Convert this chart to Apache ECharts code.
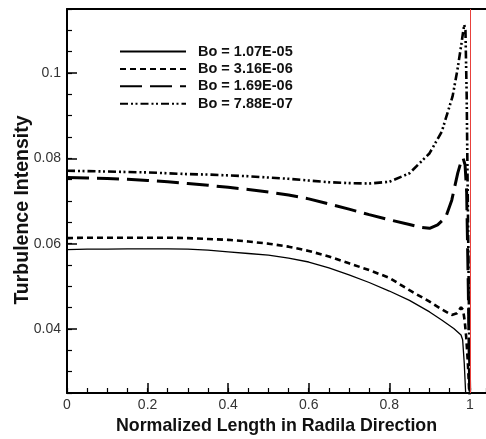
<!DOCTYPE html>
<html>
<head>
<meta charset="utf-8">
<script src="https://cdn.jsdelivr.net/npm/echarts@6/dist/echarts.min.js"></script>
<style>
  html, body { margin: 0; padding: 0; background: #fff; }
  #chart { width: 486px; height: 439px; }
</style>
</head>
<body>
<div id="chart"></div>
<script>
// legend names
const names = ['Bo = 1.07E-05', 'Bo = 3.16E-06', 'Bo = 1.69E-06', 'Bo = 7.88E-07'];

// Bo = 1.07E-05 (solid)
const x1 = [0, 0.05, 0.1, 0.15, 0.2, 0.25, 0.3, 0.35, 0.4, 0.45, 0.5, 0.55, 0.6, 0.65, 0.7, 0.75, 0.8, 0.85, 0.9, 0.93, 0.96, 0.978, 0.982, 0.986, 0.99, 0.995, 1.0];
const y1 = [0.0586, 0.0587, 0.0587, 0.0588, 0.0588, 0.0588, 0.0587, 0.0585, 0.0581, 0.0577, 0.0573, 0.0566, 0.0557, 0.0543, 0.0527, 0.0509, 0.0489, 0.0467, 0.0440, 0.0421, 0.0401, 0.0386, 0.0375, 0.032, 0.024, 0.021, 0.020];

// Bo = 3.16E-06 (short dash)
const x2 = [0, 0.05, 0.1, 0.15, 0.2, 0.25, 0.3, 0.35, 0.4, 0.45, 0.5, 0.55, 0.6, 0.65, 0.7, 0.75, 0.8, 0.85, 0.9, 0.93, 0.955, 0.968, 0.978, 0.983, 0.987, 0.991, 0.995, 1.0];
const y2 = [0.0613, 0.0614, 0.0614, 0.0614, 0.0614, 0.0614, 0.0613, 0.0611, 0.0609, 0.0605, 0.0600, 0.0593, 0.0583, 0.0570, 0.0554, 0.0538, 0.0520, 0.0491, 0.0464, 0.0446, 0.0433, 0.0437, 0.0451, 0.0445, 0.042, 0.038, 0.032, 0.022];

// Bo = 1.69E-06 (long dash)
const x3 = [0, 0.05, 0.1, 0.15, 0.2, 0.25, 0.3, 0.35, 0.4, 0.45, 0.5, 0.55, 0.6, 0.65, 0.7, 0.75, 0.8, 0.85, 0.88, 0.9, 0.92, 0.94, 0.955, 0.97, 0.978, 0.983, 0.988, 0.992, 0.996, 1.0];
const y3 = [0.0755, 0.0754, 0.0753, 0.0751, 0.0748, 0.0745, 0.0741, 0.0737, 0.0732, 0.0727, 0.0721, 0.0714, 0.0705, 0.0693, 0.0681, 0.0668, 0.0656, 0.0645, 0.0638, 0.0636, 0.0644, 0.0662, 0.0702, 0.0766, 0.0792, 0.0801, 0.0785, 0.072, 0.050, 0.022];

// Bo = 7.88E-07 (dash-dot-dot)
const x4 = [0, 0.05, 0.1, 0.15, 0.2, 0.25, 0.3, 0.35, 0.4, 0.45, 0.5, 0.55, 0.6, 0.65, 0.7, 0.75, 0.8, 0.85, 0.9, 0.93, 0.957, 0.969, 0.978, 0.983, 0.986, 0.989, 0.992, 0.996, 1.0];
const y4 = [0.0771, 0.0770, 0.0769, 0.0768, 0.0767, 0.0765, 0.0763, 0.0762, 0.0760, 0.0758, 0.0755, 0.0752, 0.0748, 0.0744, 0.0742, 0.0741, 0.0745, 0.0765, 0.0812, 0.0862, 0.0945, 0.1007, 0.1062, 0.1095, 0.1113, 0.1100, 0.095, 0.060, 0.022];

// ticks and labels
const xMajor = [0, 0.2, 0.4, 0.6, 0.8, 1];
const yMajor = [0.04, 0.06, 0.08, 0.1];

const font = 'Arial, "Liberation Sans", sans-serif';
const pair = (xs, ys) => xs.map((x, i) => [x, ys[i]]);

const chart = echarts.init(document.getElementById('chart'));

const lineCommon = {
  type: 'line',
  showSymbol: false,
  symbol: 'none',
  clip: true,
  animation: false,
  xAxisIndex: 0,
  yAxisIndex: 0
};

chart.setOption({
  backgroundColor: '#fff',
  animation: false,
  grid: { left: 67, top: 9, right: 0, bottom: 46, outerBoundsMode: 'none' },
  legend: {
    orient: 'vertical',
    left: 114,
    top: 39,
    itemWidth: 66,
    itemHeight: 14,
    itemGap: 2.4,
    data: names,
    // hide the circle ECharts puts on line legend icons
    itemStyle: { color: 'rgba(0,0,0,0)', borderWidth: 0, opacity: 0 },
    textStyle: { fontFamily: font, fontWeight: 'bold', fontSize: 14.5, lineHeight: 14, color: '#111', padding: [0, 0, 0, 7] }
  },
  xAxis: [
    {
      // minor ticks
      type: 'value', min: 0, max: 1.04, interval: 0.05,
      axisLine: { show: true, lineStyle: { color: '#000', width: 2 } },
      axisTick: { inside: true, length: 5, lineStyle: { color: '#000', width: 1.2 } },
      axisLabel: { show: false },
      splitLine: { show: false }
    },
    {
      // major ticks + labels
      type: 'value', min: 0, max: 1.04, position: 'bottom',
      name: 'Normalized Length in Radila Direction',
      nameLocation: 'middle', nameGap: 24, nameMoveOverlap: false,
      nameTextStyle: { fontFamily: font, fontWeight: 'bold', fontSize: 17.8, color: '#111' },
      axisLine: { show: false },
      axisTick: { inside: true, length: 10, customValues: xMajor, lineStyle: { color: '#000', width: 1.5 } },
      axisLabel: {
        customValues: xMajor, margin: 5,
        fontFamily: font, fontSize: 14, color: '#333',
        formatter: v => String(+v.toFixed(2))
      },
      splitLine: { show: false }
    },
    {
      // top frame
      type: 'value', min: 0, max: 1.04, position: 'top',
      axisLine: { show: true, lineStyle: { color: '#000', width: 2 } },
      axisTick: { show: false }, axisLabel: { show: false }, splitLine: { show: false }
    }
  ],
  yAxis: [
    {
      type: 'value', min: 0.025, max: 0.115, interval: 0.005,
      axisLine: { show: true, lineStyle: { color: '#000', width: 2 } },
      axisTick: { inside: true, length: 5, lineStyle: { color: '#000', width: 1.2 } },
      axisLabel: { show: false },
      splitLine: { show: false }
    },
    {
      type: 'value', min: 0.025, max: 0.115, position: 'left',
      name: 'Turbulence Intensity',
      nameLocation: 'middle', nameGap: 34, nameMoveOverlap: false,
      nameTextStyle: { fontFamily: font, fontWeight: 'bold', fontSize: 19.5, color: '#111', padding: [0, 18, 0, 0] },
      axisLine: { show: false },
      axisTick: { inside: true, length: 10, customValues: yMajor, lineStyle: { color: '#000', width: 1.5 } },
      axisLabel: {
        customValues: yMajor, margin: 6,
        fontFamily: font, fontSize: 14, color: '#333',
        formatter: v => String(+v.toFixed(3))
      },
      splitLine: { show: false }
    }
  ],
  series: [
    Object.assign({}, lineCommon, {
      name: names[0], data: pair(x1, y1),
      lineStyle: { color: '#000', width: 1.3, type: 'solid' },
      itemStyle: { color: '#000' },
      markLine: {
        silent: true, symbol: ['none', 'none'], label: { show: false },
        lineStyle: { color: '#e8413c', width: 1, type: 'solid' },
        data: [{ xAxis: 1 }]
      }
    }),
    Object.assign({}, lineCommon, {
      name: names[1], data: pair(x2, y2),
      lineStyle: { color: '#000', width: 2.6, type: [6, 4] },
      itemStyle: { color: '#000' }
    }),
    Object.assign({}, lineCommon, {
      name: names[2], data: pair(x3, y3),
      lineStyle: { color: '#000', width: 3, type: [22, 8] },
      itemStyle: { color: '#000' }
    }),
    Object.assign({}, lineCommon, {
      name: names[3], data: pair(x4, y4),
      lineStyle: { color: '#000', width: 2.6, type: [8, 3, 2, 2.5, 2, 3] },
      itemStyle: { color: '#000' }
    })
  ]
});
</script>
</body>
</html>
